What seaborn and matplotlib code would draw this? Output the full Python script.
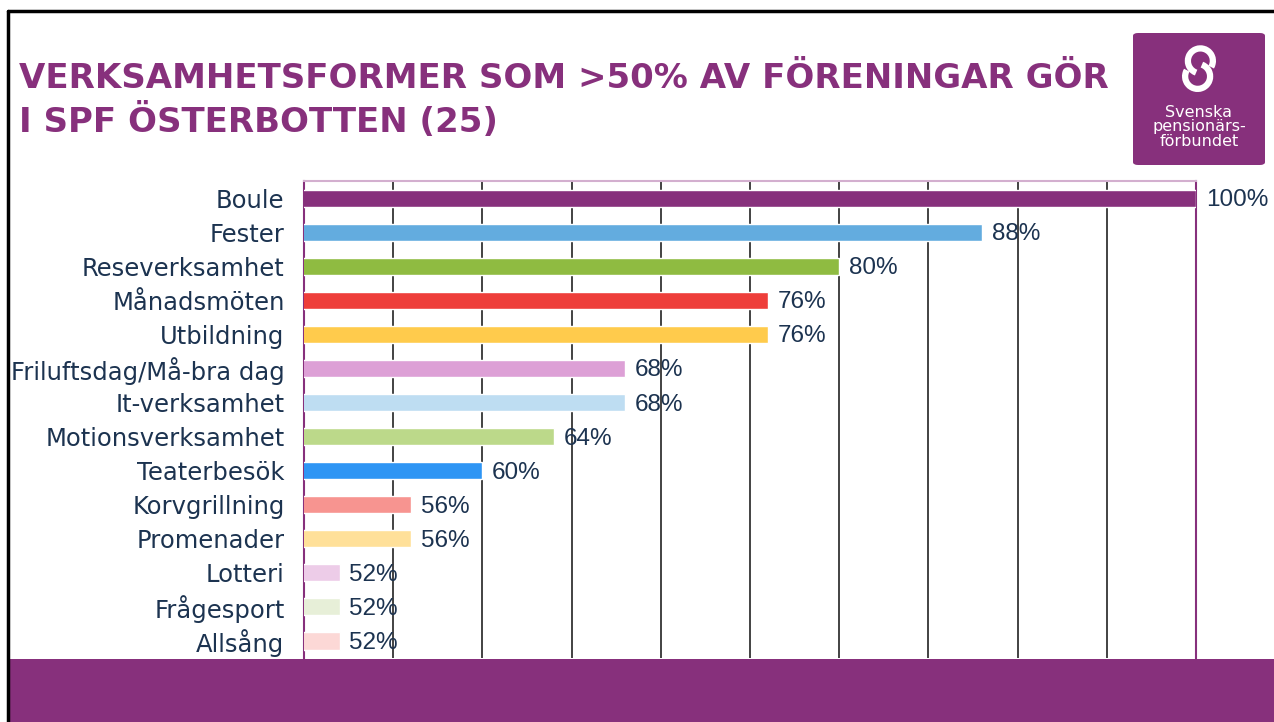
# verksamhetsformer spf österbotten - horizontal bar chart
import matplotlib
matplotlib.use('Agg')
import matplotlib.pyplot as plt
import seaborn as sns
import pandas as pd
from matplotlib.patches import Rectangle, FancyBboxPatch, Arc
from matplotlib.lines import Line2D

categories = ['Boule', 'Fester', 'Reseverksamhet', 'Månadsmöten', 'Utbildning',
              'Friluftsdag/Må-bra dag', 'It-verksamhet', 'Motionsverksamhet',
              'Teaterbesök', 'Korvgrillning', 'Promenader', 'Lotteri',
              'Frågesport', 'Allsång']
values = [100, 88, 80, 76, 76, 68, 68, 64, 60, 56, 56, 52, 52, 52]
colors = ['#87307C', '#63ACDF', '#8FBB41', '#EE3E3A', '#FFCB4C', '#DDA0D6',
          '#BEDDF2', '#BCD98A', '#2E95F4', '#F79490', '#FFE099', '#EDCCE8',
          '#E7EFD8', '#FCD8D6']
xticks = [50, 55, 60, 65, 70, 75, 80, 85, 90, 95, 100]

purple = '#87307C'
navy = '#1C3350'

sns.set_theme(style='white')
plt.rcParams['font.family'] = ['DejaVu Sans']

df = pd.DataFrame({'cat': categories, 'val': values})

fig = plt.figure(figsize=(12.74, 7.22), dpi=100)
ax = fig.add_axes([0.2386, 0.0886, 0.7002, 0.6607])

sns.barplot(data=df, x='val', y='cat', hue='cat', palette=colors, orient='h',
            width=0.5, saturation=1, legend=False, ax=ax, zorder=3)

ax.set_xlim(50, 100)
ax.set_xticks(xticks)
ax.set_xticklabels([])
ax.tick_params(axis='x', length=0)
ax.grid(axis='x', color='#222222', linewidth=1.2, zorder=0)
ax.set_axisbelow(True)
ax.set_xlabel('')
ax.set_ylabel('')

# y labels
ax.set_yticks(range(len(categories)))
ax.set_yticklabels(categories, fontsize=17.5, color=navy)
ax.tick_params(axis='y', which='major', length=0, pad=14)
ax.set_yticks([i + 0.5 for i in range(len(categories) - 1)], minor=True)
ax.tick_params(axis='y', which='minor', length=7, width=1.5, color='#B57AAE', direction='out')
ax.set_ylim(len(categories) - 0.5, -0.5)

for s in ['left', 'right']:
    ax.spines[s].set_color(purple)
    ax.spines[s].set_linewidth(1.5)
ax.spines['top'].set_color('#D3AFCF')
ax.spines['top'].set_linewidth(1.5)
ax.spines['bottom'].set_visible(False)

# value labels
for i, v in enumerate(values):
    ax.text(v + 0.55, i + 0.06, str(v) + '%', va='center', ha='left',
            fontsize=17.5, color=navy, family='Liberation Sans', clip_on=False, zorder=4)

# title
fig.text(0.015, 0.861, 'VERKSAMHETSFORMER SOM >50% AV FÖRENINGAR GÖR\nI SPF ÖSTERBOTTEN (25)',
         fontsize=24.5, fontweight='bold', color=purple, va='center', ha='left',
         linespacing=1.27)

# bottom band
fig.patches.append(Rectangle((0.0063, 0), 1, 63 / 722, transform=fig.transFigure,
                             facecolor=purple, edgecolor='none', zorder=5))

# black frame left and top
fig.lines.append(Line2D([0.0063, 0.0063], [0, 1 - 11 / 722], transform=fig.transFigure,
                        color='black', linewidth=2.5, zorder=6))
fig.lines.append(Line2D([0.0063, 1], [1 - 11 / 722, 1 - 11 / 722], transform=fig.transFigure,
                        color='black', linewidth=2.5, zorder=6))

# logo
lx, ly, lw, lh = 1133 / 1274, 1 - 165 / 722, 132 / 1274, 132 / 722
fig.patches.append(FancyBboxPatch((lx, ly), lw, lh, boxstyle='round,pad=0,rounding_size=0.004',
                                  transform=fig.transFigure, facecolor=purple,
                                  edgecolor='none', zorder=5))
lax = fig.add_axes([lx, ly + lh * 0.52, lw, lh * 0.42])
lax.set_zorder(7)
lax.patch.set_visible(False)
lax.set_xlim(-1, 1)
lax.set_ylim(-1, 1)
lax.set_aspect('equal')
lax.axis('off')
lax.add_patch(Arc((0.05, 0.28), 0.9, 0.9, theta1=-30, theta2=250, color='white', linewidth=4.5))
lax.add_patch(Arc((-0.05, -0.28), 0.9, 0.9, theta1=150, theta2=430, color='white', linewidth=4.5))
fig.text(lx + lw / 2, ly + lh * 0.29, 'Svenska\npensionärs-\nförbundet', color='white',
         fontsize=11.5, ha='center', va='center', linespacing=0.95, zorder=8)

fig.savefig('out.png', dpi=100)
